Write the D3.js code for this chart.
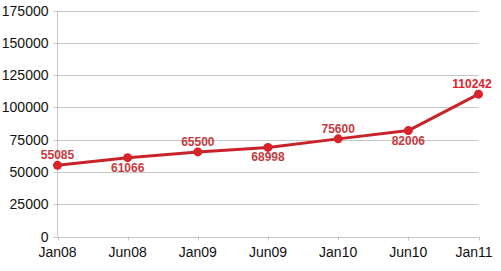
<!DOCTYPE html>
<html lang="en">
<head>
<meta charset="UTF-8">
<title>Line chart</title>
<script src="https://d3js.org/d3.v7.min.js"></script>
<style>
    body { margin: 0; background: #fff; }
    svg { display: block; font-family: Arial, "Liberation Sans", sans-serif; }
    .grid line { stroke: #c6c6c6; stroke-width: 1px; }
    .tick-label { font-size: 14px; fill: #111; }
    .value-label { font-size: 12px; font-weight: bold; fill: #c63a40; }
</style>
</head>
<body>
<svg id="chart" width="501" height="271"></svg>
<script>
    // data
    const months = ["Jan08", "Jun08", "Jan09", "Jun09", "Jan10", "Jun10", "Jan11"];
    const visitors = [55085, 61066, 65500, 68998, 75600, 82006, 110242];
    const labelAbove = [true, false, true, false, true, false, true];
    const yTicks = [0, 25000, 50000, 75000, 100000, 125000, 150000, 175000];

    const width = 501, height = 271;
    const plotLeft = 57.5, plotRight = 478.5, plotTop = 10.5, plotBottom = 236.5;

    const svg = d3.select("#chart");

    const x = d3.scalePoint().domain(months).range([plotLeft, plotRight]);
    const y = d3.scaleLinear().domain([0, 175000]).range([plotBottom, plotTop]);

    // horizontal gridlines
    svg.append("g")
        .attr("class", "grid")
        .selectAll("line")
        .data(yTicks)
        .enter().append("line")
        .attr("x1", plotLeft - 4)
        .attr("x2", plotRight)
        .attr("y1", d => Math.round(y(d)) + 0.5)
        .attr("y2", d => Math.round(y(d)) + 0.5);

    // vertical axis line
    svg.append("g").attr("class", "grid")
        .append("line")
        .attr("x1", plotLeft).attr("x2", plotLeft)
        .attr("y1", plotTop).attr("y2", plotBottom);

    // x ticks
    svg.append("g")
        .attr("class", "grid")
        .selectAll("line")
        .data(months)
        .enter().append("line")
        .attr("x1", d => Math.round(x(d)) + 0.5)
        .attr("x2", d => Math.round(x(d)) + 0.5)
        .attr("y1", plotBottom)
        .attr("y2", plotBottom + 4);

    // y labels
    svg.append("g")
        .selectAll("text")
        .data(yTicks)
        .enter().append("text")
        .attr("class", "tick-label")
        .attr("x", plotLeft - 9)
        .attr("y", d => y(d) + 5)
        .attr("text-anchor", "end")
        .text(d => d);

    // x labels (last one pushed in so it fits)
    svg.append("g")
        .selectAll("text")
        .data(months)
        .enter().append("text")
        .attr("class", "tick-label")
        .attr("x", d => Math.min(x(d), width - 27))
        .attr("y", 257)
        .attr("text-anchor", "middle")
        .text(d => d);

    const points = months.map((m, i) => ({ m, v: visitors[i], above: labelAbove[i] }));

    // line
    const line = d3.line().x(d => x(d.m)).y(d => y(d.v));
    svg.append("path")
        .datum(points)
        .attr("d", line)
        .attr("fill", "none")
        .attr("stroke", "#c8232b")
        .attr("stroke-width", 3)
        .attr("stroke-linejoin", "round");

    // markers
    svg.append("g")
        .selectAll("circle")
        .data(points)
        .enter().append("circle")
        .attr("cx", d => x(d.m))
        .attr("cy", d => y(d.v))
        .attr("r", 4.5)
        .attr("fill", "#d8232a");

    // value labels
    svg.append("g")
        .selectAll("text")
        .data(points)
        .enter().append("text")
        .attr("class", "value-label")
        .attr("x", d => Math.min(x(d.m), width - 29))
        .attr("y", d => y(d.v) + (d.above ? -6 : 14))
        .attr("text-anchor", "middle")
        .style("fill", (d, i) => i === points.length - 1 ? "#e0222b" : null)
        .text(d => d.v);
</script>
</body>
</html>
